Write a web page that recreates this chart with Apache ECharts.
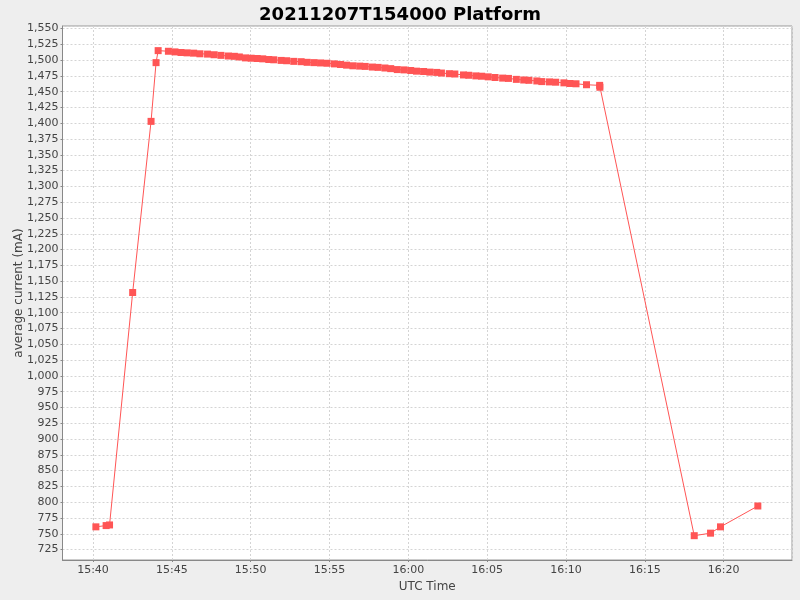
<!DOCTYPE html>
<html>
<head>
<meta charset="utf-8">
<title>20211207T154000 Platform</title>
<script src="https://cdn.jsdelivr.net/npm/echarts@6/dist/echarts.min.js"></script>
<style>
  html, body { margin: 0; padding: 0; background: #eeeeee; }
  #chart { width: 800px; height: 600px; }
</style>
</head>
<body>
<div id="chart"></div>
<script>
// sample times (UTC) and average current readings (mA)
const times = [
  '15:40:11', '15:40:50', '15:41:03', '15:42:31', '15:43:41', '15:44:00', '15:44:08',
  '15:44:47', '15:45:12', '15:45:35', '15:45:58', '15:46:23', '15:46:47', '15:47:16', '15:47:41',
  '15:48:07', '15:48:35', '15:48:58', '15:49:17', '15:49:40', '15:50:02', '15:50:25', '15:50:46',
  '15:51:09', '15:51:28', '15:51:56', '15:52:17', '15:52:44', '15:53:12', '15:53:35', '15:54:01',
  '15:54:26', '15:54:51', '15:55:19', '15:55:42', '15:56:05', '15:56:29', '15:56:55', '15:57:16',
  '15:57:43', '15:58:05', '15:58:31', '15:58:53', '15:59:18', '15:59:44', '16:00:09', '16:00:31',
  '16:00:58', '16:01:22', '16:01:48', '16:02:06', '16:02:36', '16:02:57', '16:03:30', '16:03:50',
  '16:04:17', '16:04:39', '16:05:04', '16:05:30', '16:05:59', '16:06:21', '16:06:51', '16:07:19',
  '16:07:39', '16:08:09', '16:08:28', '16:08:57', '16:09:21', '16:09:52', '16:10:15', '16:10:38',
  '16:11:18', '16:12:08', '16:12:09',
  '16:18:08', '16:19:10', '16:19:48', '16:22:10'
];
const current = [
  761, 763, 764, 1132, 1403, 1496, 1515,
  1514, 1513, 1512, 1511.5, 1511, 1510, 1509.5, 1508.5,
  1507.5, 1506.5, 1506, 1505, 1503.5, 1503, 1502.5, 1502,
  1501, 1500.5, 1499.5, 1499, 1498, 1497.5, 1496.5, 1496,
  1495.5, 1495, 1494, 1493, 1492, 1491, 1490.5, 1490,
  1489, 1488.5, 1487.5, 1486.5, 1485, 1484.5, 1483.5, 1482.5,
  1482, 1481, 1480.5, 1479.5, 1478.5, 1478, 1476.5, 1476,
  1475, 1474.5, 1473.5, 1472.5, 1471.5, 1471, 1469.5, 1468.5,
  1468, 1467, 1466, 1465.5, 1465, 1464, 1463, 1462.5,
  1461, 1460, 1457,
  747, 751, 761, 794
];

const xStart = '15:38:04';
const xEnd = '16:24:20';
const yMin = 708.5;
const yMax = 1554;

function toSec(s) {
  const p = s.split(':').map(Number);
  return p[0] * 3600 + p[1] * 60 + p[2];
}
function pad(n) { return (n < 10 ? '0' : '') + n; }
function hhmm(sec) {
  return pad(Math.floor(sec / 3600)) + ':' + pad(Math.floor((sec % 3600) / 60));
}

const points = times.map((t, i) => [toSec(t), current[i]]);

const font = 'DejaVu Sans';
const gridLine = { show: true, lineStyle: { color: '#d4d4d4', type: [2, 2], width: 1 } };

const chart = echarts.init(document.getElementById('chart'));
chart.setOption({
  animation: false,
  backgroundColor: '#eeeeee',
  title: {
    text: '20211207T154000 Platform',
    left: 'center',
    top: 1,
    textStyle: { fontFamily: font, fontSize: 18, fontWeight: 'bold', color: '#000' }
  },
  grid: {
    left: 62.5, right: 8, top: 26, bottom: 40,
    outerBoundsMode: 'none',
    containLabel: false,
    show: true, backgroundColor: '#ffffff', borderColor: '#999999', borderWidth: 1
  },
  xAxis: {
    type: 'value',
    min: toSec(xStart),
    max: toSec(xEnd),
    minInterval: 300,
    maxInterval: 300,
    name: 'UTC Time',
    nameLocation: 'middle',
    nameGap: 21,
    nameTextStyle: { fontFamily: font, fontSize: 12, color: '#444' },
    axisLine: { show: true, lineStyle: { color: '#888888' } },
    axisTick: { show: true, length: 2, lineStyle: { color: '#888888' } },
    axisLabel: {
      fontFamily: font, fontSize: 11, color: '#444', margin: 5,
      showMinLabel: false, showMaxLabel: false,
      formatter: v => (v % 300 === 0 ? hhmm(v) : '')
    },
    splitLine: gridLine
  },
  yAxis: {
    type: 'value',
    min: yMin,
    max: yMax,
    minInterval: 25,
    maxInterval: 25,
    name: 'average current (mA)',
    nameLocation: 'middle',
    nameGap: 38,
    nameMoveOverlap: false,
    nameTextStyle: { fontFamily: font, fontSize: 12, color: '#444' },
    axisLine: { show: true, lineStyle: { color: '#888888' } },
    axisTick: { show: true, length: 2, lineStyle: { color: '#888888' } },
    axisLabel: {
      fontFamily: font, fontSize: 11, color: '#444', margin: 4,
      showMinLabel: false, showMaxLabel: false,
      formatter: v => (v % 25 === 0 ? v.toLocaleString('en-US') : '')
    },
    splitLine: gridLine
  },
  series: [{
    type: 'line',
    data: points,
    symbol: 'rect',
    symbolSize: 7,
    showAllSymbol: true,
    itemStyle: { color: '#ff5555' },
    lineStyle: { color: '#ff5555', width: 1 }
  }]
});
</script>
</body>
</html>
